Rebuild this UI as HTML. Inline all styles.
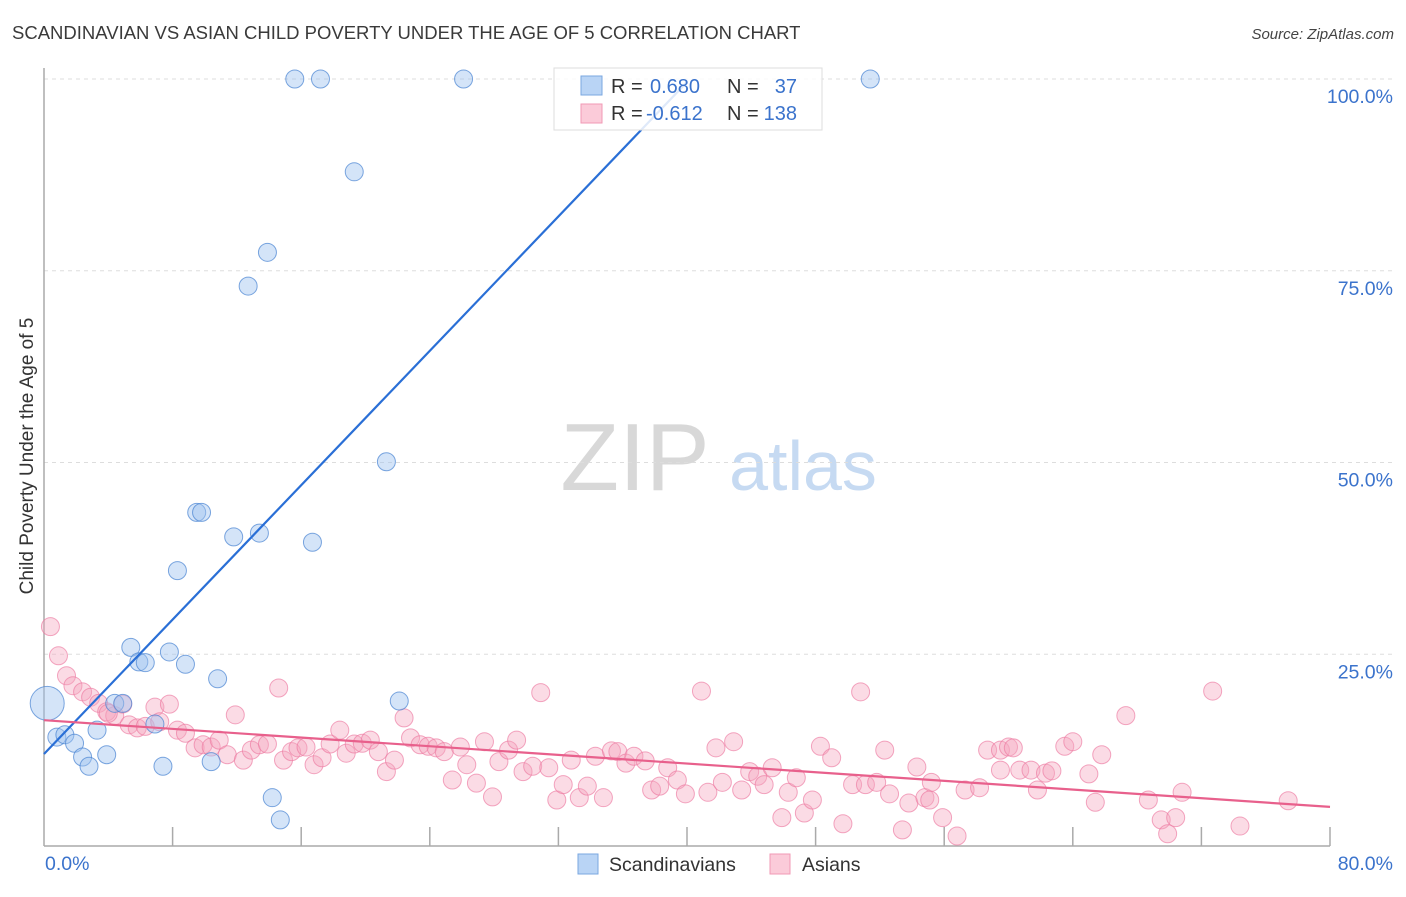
<!DOCTYPE html>
<html><head><meta charset="utf-8"><style>
body{margin:0;background:#fff;font-family:"Liberation Sans",sans-serif;}
svg text{font-family:"Liberation Sans",sans-serif;}
</style></head><body>
<svg id="chart" width="1406" height="892" xmlns="http://www.w3.org/2000/svg">
<text x="12" y="39" font-size="18.5" fill="#3a3a3a">SCANDINAVIAN VS ASIAN CHILD POVERTY UNDER THE AGE OF 5 CORRELATION CHART</text>
<text x="1394" y="39" font-size="15" fill="#444" text-anchor="end" font-style="italic">Source: ZipAtlas.com</text>
<g>
<text x="635" y="490" font-size="96" fill="#d8d8d8" font-family="Liberation Serif,serif" text-anchor="middle">ZIP</text>
<text x="803" y="490" font-size="70" fill="#c6daf2" text-anchor="middle">atlas</text>
</g>
<g id="grid"></g>
<g id="axes"></g>
<g id="points"></g>
<g id="trends"></g>
<text transform="translate(33,456) rotate(-90)" font-size="19" fill="#333" text-anchor="middle">Child Poverty Under the Age of 5</text>
<g>
<rect x="554" y="68" width="268" height="62" fill="rgba(255,255,255,0.85)" stroke="#ddd"/>
<rect x="581" y="76" width="21" height="19" fill="#b9d4f5" stroke="#7aa7e0"/>
<rect x="581" y="104" width="21" height="19" fill="#fbcbd9" stroke="#f09ab5"/>
<text x="611" y="93" font-size="20" fill="#333">R =</text>
<text x="650" y="93" font-size="20" fill="#3b73cc">0.680</text>
<text x="727" y="93" font-size="20" fill="#333">N =</text>
<text x="797" y="93" font-size="20" fill="#3b73cc" text-anchor="end">37</text>
<text x="611" y="120" font-size="20" fill="#333">R =</text>
<text x="646" y="120" font-size="20" fill="#3b73cc">-0.612</text>
<text x="727" y="120" font-size="20" fill="#333">N =</text>
<text x="797" y="120" font-size="20" fill="#3b73cc" text-anchor="end">138</text>
</g>
<g>
<rect x="578" y="854" width="20" height="20" fill="#b9d4f5" stroke="#7aa7e0"/>
<text x="609" y="871" font-size="19.5" fill="#333">Scandinavians</text>
<rect x="770" y="854" width="20" height="20" fill="#fbcbd9" stroke="#f09ab5"/>
<text x="802" y="871" font-size="19.5" fill="#333">Asians</text>
</g>
</svg>
<script>
const yTicks=[25,50,75,100];
const yTickLabels=["25.0%","50.0%","75.0%","100.0%"];
const xTickVals=[8,16,24,32,40,48,56,64,72,80];
const blueX=[15.6,17.2,26.1,51.4,19.3,13.9,12.7,21.3,9.5,9.8,11.8,13.4,16.7,8.3,5.4,7.8,5.9,6.3,8.8,10.8,22.1,4.4,4.9,6.9,3.3,0.8,1.3,1.9,2.4,2.8,3.9,7.4,10.4,14.2,14.7,0.2];
const blueY=[100,100,100,100,87.9,77.4,73.0,50.1,43.5,43.5,40.3,40.8,39.6,35.9,25.9,25.3,24.0,23.9,23.7,21.8,18.9,18.6,18.6,15.9,15.1,14.2,14.5,13.4,11.6,10.4,11.9,10.4,11.0,6.3,3.4,18.6];
const blueR=[9,9,9,9,9,9,9,9,9,9,9,9,9,9,9,9,9,9,9,9,9,9,9,9,9,9,9,9,9,9,9,9,9,9,9,17];
const pinkX=[0.4,0.9,1.4,1.8,2.4,2.9,3.4,3.9,4.4,4.0,4.9,5.3,5.8,6.3,6.9,7.2,7.8,8.3,8.8,9.4,9.9,10.4,10.9,11.4,11.9,12.4,12.9,13.4,13.9,14.6,14.9,15.4,15.8,16.3,16.8,17.3,17.8,18.4,18.8,19.3,19.8,20.3,20.8,21.3,21.8,22.4,22.8,23.4,23.9,24.4,24.9,25.4,25.9,26.3,26.9,27.4,27.9,28.3,28.9,29.4,29.8,30.4,30.9,31.4,31.9,32.3,32.8,33.3,33.8,34.3,34.8,35.3,35.7,36.2,36.7,37.4,37.8,38.3,38.8,39.4,39.9,40.9,41.3,41.8,42.2,42.9,43.4,43.9,44.4,44.8,45.3,45.9,46.3,46.8,47.3,47.8,48.3,49.0,49.7,50.3,50.8,51.1,51.8,52.3,52.6,53.4,53.8,54.3,54.8,55.2,55.9,56.8,57.3,58.2,58.7,59.5,60.0,60.3,60.7,61.4,61.8,62.3,62.7,63.5,64.0,65.0,65.4,65.8,67.3,68.7,69.5,69.9,70.4,70.8,72.7,74.4,77.4,59.5,55.1];
const pinkY=[28.6,24.8,22.2,20.9,20.1,19.4,18.6,17.5,17.0,17.3,18.5,15.8,15.4,15.6,18.1,16.2,18.5,15.1,14.7,12.8,13.2,12.9,13.8,11.9,17.1,11.2,12.5,13.2,13.3,20.6,11.2,12.3,12.8,12.9,10.6,11.5,13.3,15.1,12.1,13.3,13.4,13.8,12.3,9.7,11.2,16.7,14.1,13.2,13.0,12.8,12.3,8.6,12.9,10.6,8.2,13.6,6.4,11.0,12.5,13.8,9.7,10.4,20.0,10.2,6.0,8.0,11.2,6.3,7.8,11.7,6.3,12.4,12.3,10.8,11.7,11.1,7.3,7.8,10.2,8.6,6.8,20.2,7.0,12.8,8.3,13.6,7.3,9.7,9.1,8.0,10.2,3.7,7.0,8.9,4.3,6.0,13.0,11.5,2.9,8.0,20.1,8.0,8.3,12.5,6.8,2.1,5.6,10.3,6.3,8.3,3.7,1.3,7.3,7.6,12.5,12.5,12.9,12.8,9.9,9.9,7.3,9.5,9.8,13.0,13.6,9.4,5.7,11.9,17.0,6.0,3.4,1.6,3.7,7.0,20.2,2.6,5.9,9.9,6.0];
const blueTrendX=[0,40];
const blueTrendY=[12.0,99.6];
const pinkTrendX=[0,80];
const pinkTrendY=[16.4,5.1];

const X0=44,X1=1330,Y0=846,Y100=79;
const sx=v=>X0+(X1-X0)*v/80;
const sy=v=>Y0-(Y0-Y100)*v/100;
const NS="http://www.w3.org/2000/svg";
function mk(tag,attrs,parent){const e=document.createElementNS(NS,tag);for(const k in attrs)e.setAttribute(k,attrs[k]);parent.appendChild(e);return e;}
const grid=document.getElementById('grid'),axes=document.getElementById('axes'),pts=document.getElementById('points'),tr=document.getElementById('trends');
yTicks.forEach((t,i)=>{
  const l=mk('line',{x1:X0,x2:1394,y1:sy(t),y2:sy(t),stroke:'#ddd','stroke-dasharray':'4,4'},grid);
  
  
  const tx=mk('text',{x:1393,y:sy(t)+24,'font-size':19.5,fill:'#3b73cc','text-anchor':'end'},grid);
  tx.textContent=yTickLabels[i];
  
  
});
const ya=mk('line',{x1:X0,x2:X0,y1:68,y2:Y0,stroke:'#aaa','stroke-width':1.5},axes);


const xa=mk('line',{x1:X0,x2:X1,y1:Y0,y2:Y0,stroke:'#aaa','stroke-width':1.5},axes);


xTickVals.forEach(v=>{
  const t=mk('line',{x1:sx(v),x2:sx(v),y1:Y0-19,y2:Y0,stroke:'#aaa','stroke-width':1.5},axes);
  
  
});
const xl0=mk('text',{x:45,y:870,'font-size':19.5,fill:'#3b73cc'},axes);xl0.textContent='0.0%';


const xl1=mk('text',{x:1393,y:870,'font-size':19.5,fill:'#3b73cc','text-anchor':'end'},axes);xl1.textContent='80.0%';


pinkX.forEach((x,i)=>{
  const c=mk('circle',{cx:sx(x),cy:sy(pinkY[i]),r:9,fill:'rgba(246,164,190,0.4)',stroke:'rgba(236,120,160,0.65)','stroke-width':1},pts);
  
  
});
blueX.forEach((x,i)=>{
  const c=mk('circle',{cx:sx(x),cy:sy(blueY[i]),r:blueR[i],fill:'rgba(160,196,240,0.45)',stroke:'rgba(70,130,210,0.7)','stroke-width':1},pts);
  
  
});
const bl=mk('line',{x1:sx(blueTrendX[0]),y1:sy(blueTrendY[0]),x2:sx(blueTrendX[1]),y2:sy(blueTrendY[1]),stroke:'#2a6fd6','stroke-width':2.2},tr);


const pl=mk('line',{x1:sx(pinkTrendX[0]),y1:sy(pinkTrendY[0]),x2:sx(pinkTrendX[1]),y2:sy(pinkTrendY[1]),stroke:'#e8608c','stroke-width':2.2},tr);


</script>
</body></html>
